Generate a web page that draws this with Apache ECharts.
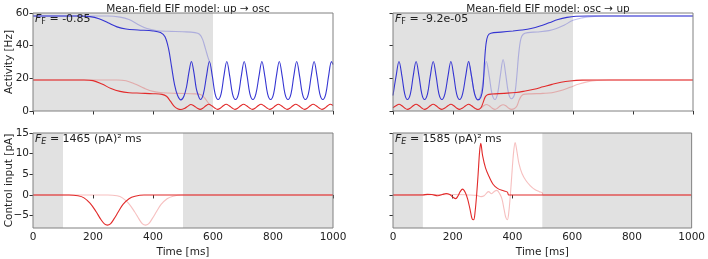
<!DOCTYPE html>
<html>
<head>
<meta charset="utf-8">
<script src="https://cdn.jsdelivr.net/npm/echarts@6/dist/echarts.min.js"></script>
<style>
  html, body { margin: 0; padding: 0; background: #fff; }
  #chart { width: 708px; height: 259px; }
</style>
</head>
<body>
<div id="chart"></div>
<script>
let timeTicks = [0, 200, 400, 600, 800, 1000];
let activityTicks = [0, 20, 40, 60];
let controlTicks = [-5, 0, 5, 10, 15];

let titles = ['Mean-field EIF model: up \u2192 osc', 'Mean-field EIF model: osc \u2192 up'];
let costF = ['-0.85', '-9.2e-05'];
let costE = ['1465', '1585'];

// up -> osc, activity
let upOscBlue = [[0,58.2],[150,58.2],[190,57.8],[220,56.5],[250,54],[280,51.5],[310,50.2],[350,49.6],[400,49],[425,48],[440,45.5],[452,38],[462,27],[472,16],[482,9.5],[493,6.8],[503,9],[512,15],[520,24],[528,30.3],[536,24],[544,14],[551,9.5],[558,7],[568,10.5],[578,21],[588,30.3],[598,21],[607,10.5],[617,7],[627,10.5],[636,21],[646,30.3],[656,21],[665,10.5],[675,7],[685,10.5],[694,21],[704,30.3],[714,21],[723,10.5],[733,7],[743,10.5],[753,21],[763,30.3],[773,21],[782,10.5],[792,7],[802,10.5],[811,21],[821,30.3],[831,21],[840,10.5],[850,7],[860,10.5],[869,21],[879,30.3],[889,21],[898,10.5],[908,7],[918,10.5],[927,21],[937,30.3],[947,21],[956,10.5],[966,7],[976,10.5],[985,21],[995,30.3],[1000,28.5]];
let upOscBlueRef = [[0,58.2],[250,58.2],[290,57.5],[320,56],[350,53],[380,50.5],[410,49.3],[450,48.8],[500,48.5],[540,48],[555,47],[565,44],[575,38],[583,33],[588,30.3]];
let upOscRed = [[0,19],[170,19],[200,18.6],[230,16.5],[260,13.8],[290,12],[320,11.2],[360,10.9],[400,10.6],[430,10.2],[445,9],[458,6],[470,3],[482,1.4],[493,0.9],[505,1.6],[517,3],[526,4],[537,3.1],[548,1.7],[557,1],[567,1.8],[576,3.2],[586,4.1],[596,3.2],[606,1.8],[615,1],[625,1.8],[634,3.2],[644,4.1],[654,3.2],[664,1.8],[673,1],[683,1.8],[692,3.2],[702,4.1],[712,3.2],[722,1.8],[731,1],[741,1.8],[750,3.2],[760,4.1],[770,3.2],[780,1.8],[789,1],[799,1.8],[808,3.2],[818,4.1],[828,3.2],[838,1.8],[847,1],[857,1.8],[866,3.2],[876,4.1],[886,3.2],[896,1.8],[905,1],[915,1.8],[924,3.2],[934,4.1],[944,3.2],[954,1.8],[963,1],[973,1.8],[982,3.2],[991,4.1],[1000,3.4]];
let upOscRedRef = [[0,19],[280,19],[310,18.5],[340,16.5],[370,14],[400,12],[430,11.2],[480,10.8],[540,10.5],[560,10],[572,8],[582,5.5],[590,3.8],[596,3.2]];

// osc -> up, activity
let oscUpBlue = [[0,9.5],[10,21],[20,30.3],[30,21],[39,10.5],[48,7],[58,10.5],[67,21],[77,30.3],[87,21],[96,10.5],[105,7],[115,10.5],[124,21],[134,30.3],[144,21],[153,10.5],[163,7],[173,10.5],[183,21],[193,30.3],[203,21],[212,10.5],[222,7],[232,10.5],[242,21],[252,30.3],[262,21],[272,10.5],[283,6.8],[293,8.5],[300,15],[305,30],[310,41],[316,46],[326,47.6],[360,48.3],[400,49],[430,49.6],[460,50.5],[490,52],[520,54],[550,56],[580,57.3],[610,58],[650,58.2],[1000,58.2]];
let oscUpBlueRef = [[252,30.3],[262,21],[272,10.5],[283,7],[293,10.5],[302,21],[311,30.3],[321,21],[330,10.5],[340,7],[349,11],[358,22],[367,31.5],[376,22],[385,11],[395,7.5],[405,10],[412,20],[419,35],[426,44],[434,47],[450,48],[480,48.4],[520,49.2],[545,50.5],[570,52.5],[600,55.5],[630,57],[660,57.8],[700,58.2],[1000,58.2]];
let oscUpRed = [[0,2],[10,3.2],[20,4.1],[30,3.2],[39,1.8],[48,1],[58,1.8],[67,3.2],[77,4.1],[87,3.2],[96,1.8],[105,1],[115,1.8],[124,3.2],[134,4.1],[144,3.2],[153,1.8],[163,1],[173,1.8],[183,3.2],[193,4.1],[203,3.2],[212,1.8],[222,1],[232,1.8],[242,3.2],[252,4.1],[262,3.2],[272,1.8],[283,0.9],[293,2],[300,5],[307,8.5],[315,10],[330,10.4],[370,10.8],[410,11.3],[440,12.2],[470,13.3],[500,14.8],[530,16.3],[560,17.6],[590,18.4],[630,18.9],[680,19],[1000,19]];
let oscUpRedRef = [[252,4.1],[262,3.2],[272,1.8],[283,1],[293,1.8],[302,3.2],[311,4],[321,3.2],[330,1.8],[340,1],[349,1.8],[358,3.2],[367,3.8],[376,3.2],[385,1.8],[395,1],[405,1.5],[413,3],[420,6.5],[427,9],[435,10.2],[460,10.5],[500,10.8],[530,11.2],[560,12.5],[590,14.5],[620,16.5],[650,18],[680,18.7],[720,19],[1000,19]];

// control input
let upOscCtrl = [[0,0],[120,0],[150,-0.2],[170,-0.7],[190,-2],[210,-4],[225,-5.8],[238,-7],[248,-7.3],[258,-7],[270,-5.8],[285,-4],[300,-2.3],[320,-0.9],[340,-0.3],[370,0],[1000,0]];
let upOscCtrlRef = [[0,0],[250,0],[280,-0.2],[298,-0.7],[318,-2],[338,-4],[353,-5.8],[365,-7],[375,-7.3],[385,-7],[397,-5.8],[412,-4],[427,-2.3],[447,-0.9],[467,-0.3],[495,0],[1000,0]];
let oscUpCtrl = [[0,0],[100,0],[115,0.15],[130,0.1],[150,-0.2],[165,0.1],[178,0.35],[190,0.1],[200,-0.5],[210,-0.9],[218,-0.2],[225,0.8],[233,1.4],[242,0.6],[250,-1],[258,-3.5],[265,-5.8],[270,-6],[275,-4],[280,0],[285,5],[290,10.5],[294,12.5],[300,9.5],[310,6.5],[322,4.4],[335,2.6],[350,1.6],[370,1.0],[383,0.7],[388,0],[1000,0]];
let oscUpCtrlRef = [[0,0],[200,0.1],[250,0],[280,-0.1],[295,-0.4],[305,-0.2],[320,0.8],[330,0.3],[340,0.9],[348,1.1],[358,0.2],[365,-1],[372,-3.5],[378,-5.5],[383,-6],[388,-4],[393,0],[398,5],[404,10.5],[409,12.7],[415,10.5],[422,7.5],[432,5.2],[445,3.5],[460,2.2],[475,1.3],[490,0.8],[500,0.5],[502,0],[1000,0]];

let blue = '#3535d2';
let red = '#e22a2a';
let shade = '#e1e1e1';
let textColor = '#222';
let font = 'DejaVu Sans';

let chart = echarts.init(document.getElementById('chart'), null, {renderer: 'canvas'});

let minus = v => v < 0 ? '\u2212' + Math.abs(v) : String(v);

function xAxis(gridIndex, showLabel) {
  return {
    type: 'value', gridIndex: gridIndex, min: 0, max: 1000, interval: 200,
    axisLine: {show: false},
    axisTick: {show: true, length: 3.5, lineStyle: {color: '#333'}},
    axisLabel: {show: showLabel, color: textColor, fontSize: 10.5, fontFamily: font, margin: 4, formatter: v => String(v)},
    splitLine: {show: false},
    name: showLabel ? 'Time [ms]' : '',
    nameLocation: 'middle', nameGap: 19,
    nameTextStyle: {color: textColor, fontSize: 10.5, fontFamily: font}
  };
}

function yAxis(gridIndex, showLabel, top) {
  let ax = {
    type: 'value', gridIndex: gridIndex,
    axisLine: {show: false},
    axisTick: {show: true, length: 3.5, lineStyle: {color: '#333'}},
    axisLabel: {show: showLabel, color: textColor, fontSize: 10.5, fontFamily: font, margin: 4, formatter: minus},
    splitLine: {show: false},
    nameLocation: 'middle', nameGap: 18, nameMoveOverlap: false,
    nameTextStyle: {color: textColor, fontSize: 10.5, fontFamily: font}
  };
  if (top) {
    ax.min = 0; ax.max = 60; ax.interval = 20;
    ax.name = showLabel ? 'Activity [Hz]' : '';
  } else {
    ax.min = -8; ax.max = 15;
    ax.axisTick.customValues = controlTicks;
    ax.axisLabel.customValues = controlTicks;
    ax.name = showLabel ? 'Control input [pA]' : '';
  }
  return ax;
}

function line(idx, data, color, faint) {
  return {
    type: 'line', xAxisIndex: idx, yAxisIndex: idx, data: data,
    showSymbol: false, smooth: 0.35, silent: true, z: faint ? 3 : 4,
    lineStyle: {color: color, width: 1.1, opacity: faint ? 0.3 : 1}
  };
}

function shading(idx, ranges) {
  return {
    type: 'line', xAxisIndex: idx, yAxisIndex: idx, data: [], silent: true, z: 1,
    markArea: {
      silent: true,
      itemStyle: {color: shade},
      data: ranges.map(r => [{xAxis: r[0]}, {xAxis: r[1]}])
    }
  };
}

function note(left, top, sub, subItalic, value) {
  return {
    type: 'text', left: left, top: top, z: 20,
    style: {
      text: '{f|F}{s|' + sub + '}{v| = ' + value + '}',
      rich: {
        f: {fontStyle: 'italic', fontSize: 11, fontFamily: font, fill: textColor},
        s: {fontStyle: subItalic ? 'italic' : 'normal', fontSize: 8, fontFamily: font, fill: textColor, verticalAlign: 'bottom', padding: [5, 0, 0, 0]},
        v: {fontSize: 11, fontFamily: font, fill: textColor}
      }
    }
  };
}

let titleStyle = {fontSize: 10.5, fontWeight: 'normal', color: textColor, fontFamily: font};

let option = {
  animation: false,
  backgroundColor: '#fff',
  title: [
    {text: titles[0], left: 183, top: -1, textAlign: 'center', textStyle: titleStyle},
    {text: titles[1], left: 543, top: -1, textAlign: 'center', textStyle: titleStyle}
  ],
  grid: [
    {left: 33, top: 13, width: 300, height: 98, show: true, borderColor: '#808080', borderWidth: 1, z: 10, backgroundColor: 'transparent'},
    {left: 393, top: 13, width: 300, height: 98, show: true, borderColor: '#808080', borderWidth: 1, z: 10, backgroundColor: 'transparent'},
    {left: 33, top: 133, width: 300, height: 98, show: true, borderColor: '#808080', borderWidth: 1, z: 10, backgroundColor: 'transparent'},
    {left: 393, top: 133, width: 300, height: 98, show: true, borderColor: '#808080', borderWidth: 1, z: 10, backgroundColor: 'transparent'}
  ],
  xAxis: [xAxis(0, false), xAxis(1, false), xAxis(2, true), xAxis(3, true)],
  yAxis: [yAxis(0, true, true), yAxis(1, false, true), yAxis(2, true, false), yAxis(3, false, false)],
  series: [
    shading(0, [[0, 600]]),
    line(0, upOscBlueRef, blue, true),
    line(0, upOscRedRef, red, true),
    line(0, upOscBlue, blue, false),
    line(0, upOscRed, red, false),

    shading(1, [[0, 600]]),
    line(1, oscUpBlueRef, blue, true),
    line(1, oscUpRedRef, red, true),
    line(1, oscUpBlue, blue, false),
    line(1, oscUpRed, red, false),

    shading(2, [[0, 100], [500, 1000]]),
    line(2, upOscCtrlRef, red, true),
    line(2, upOscCtrl, red, false),

    shading(3, [[0, 100], [500, 1000]]),
    line(3, oscUpCtrlRef, red, true),
    line(3, oscUpCtrl, red, false)
  ],
  graphic: [
    note(35, 14, 'F', false, costF[0]),
    note(395, 14, 'F', false, costF[1]),
    note(35, 134, 'E', true, costE[0] + ' (pA)\u00b2 ms'),
    note(395, 134, 'E', true, costE[1] + ' (pA)\u00b2 ms')
  ]
};

chart.setOption(option);
</script>
</body>
</html>
